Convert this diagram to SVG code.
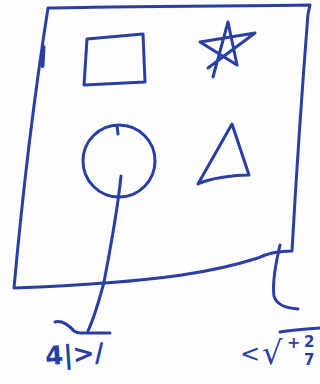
<svg xmlns="http://www.w3.org/2000/svg" width="320" height="384" viewBox="0 0 320 384">
<style>
.ink{fill:none;stroke:#2a3fa6;stroke-width:3;stroke-linecap:round;stroke-linejoin:round}
.t{fill:#2a3fa6;font-family:"DejaVu Sans",sans-serif}
</style>
<rect width="320" height="384" fill="#fdfdfd"/>
<g id="board">
<path class="ink" d="M48,8 C120,6 250,6 310,5 L308,14 C302,90 296,180 292,251 C280,251 268,253 258,258 C220,270 170,282 14,288 C22,200 32,110 48,8 Z"/>
<path class="ink" d="M43.5,47 L42.5,66" style="stroke-width:4"/>
</g>
<g id="square"><path class="ink" d="M87,39 L143,34 L145,82 L84,85 Z"/></g>
<g id="star"><path class="ink" d="M213,77 L228,22 L237,65 L200,42 L255,33 L208,68"/></g>
<g id="circle"><circle class="ink" cx="119" cy="161" r="36"/><path class="ink" d="M117,126 L118,134"/></g>
<g id="triangle"><path class="ink" d="M232,124 L249,175 C235,175 210,178 198,184 Z"/></g>
<g id="connectors">
<path class="ink" d="M121,176 C117,215 110,250 104,282 C98,305 93,320 88,331"/>
<path class="ink" d="M55,322 C62,320 70,326 74,331 C78,334 80,333 84,333 L110,333"/>
<path class="ink" d="M280,245 C276,262 272,282 274,296 C276,304 284,308 298,309"/>
</g>
<g id="label-left"><text class="t" x="45" y="363" font-size="26" font-weight="bold" transform="rotate(-4 78 352)">4|&gt;/</text></g>
<g id="label-right">
<text class="t" x="240" y="362" font-size="24">&lt;</text>
<text class="t" x="262" y="364" font-size="32">√</text>
<path class="ink" d="M280,332 C292,330 306,329 320,328"/>
<text class="t" x="287" y="348" font-size="16" font-weight="bold">+</text>
<text class="t" x="304" y="347" font-size="15" font-weight="bold">2</text>
<text class="t" x="304" y="365" font-size="15" font-weight="bold">7</text>
</g>
</svg>
